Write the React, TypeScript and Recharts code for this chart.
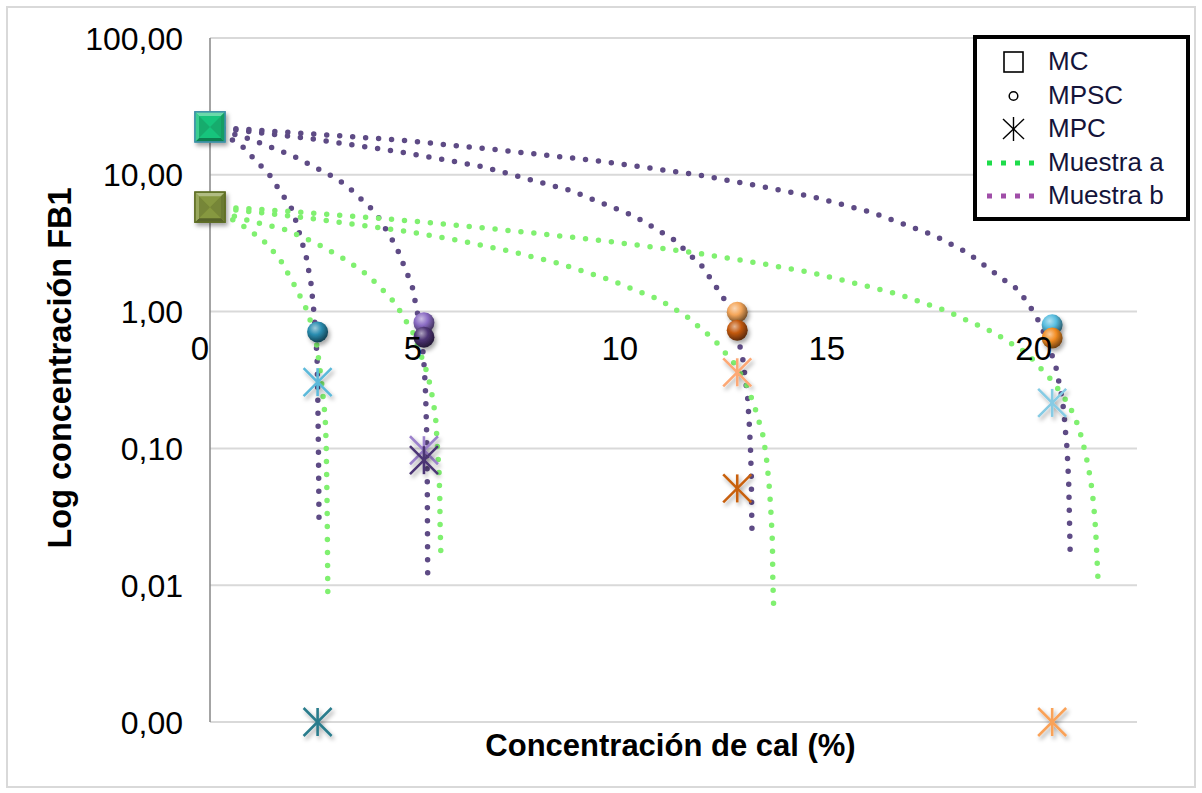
import React from 'react';
import { ComposedChart, Line, Scatter, XAxis, YAxis, CartesianGrid, Legend } from 'recharts';

// ---------- data ----------
const X_TICKS = [0, 5, 10, 15, 20];
const Y_TICKS = [0.001, 0.01, 0.1, 1, 10, 100];
const X_DOMAIN: [number, number] = [0, 22.4];
const Y_DOMAIN: [number, number] = [0.001, 100];

const X_TITLE = 'Concentración de cal (%)';
const Y_TITLE = 'Log concentración FB1';
const LEGEND_LABELS = ['MC', 'MPSC', 'MPC', 'Muestra a', 'Muestra b'];

// MC (squares)
const MC_X = [0, 0];
const MC_Y = [22.4, 5.8];
// MPSC (spheres)
const MPSC_X = [2.6, 5.17, 5.17, 12.74, 12.74, 20.35, 20.35];
const MPSC_Y = [0.71, 0.83, 0.65, 0.99, 0.73, 0.8, 0.64];
// MPC (asterisks)
const MPC_X = [2.6, 2.6, 5.17, 5.17, 12.74, 12.74, 20.35, 20.35];
const MPC_Y = [0.305, 0.001, 0.097, 0.082, 0.36, 0.051, 0.215, 0.001];

// Muestra b trend curves (purple dotted)
const MUESTRA_B_1: [number, number][] = [
  [0, 22.4], [0.75, 16.5], [1.437, 9.98], [2.0, 5.5], [2.324, 2.52], [2.44, 1.61], [2.522, 0.918],
  [2.587, 0.468], [2.604, 0.239], [2.62, 0.1], [2.628, 0.0525], [2.635, 0.027],
];
const MUESTRA_B_2: [number, number][] = [
  [0, 22.4], [1, 18.1], [2, 13.8], [3, 9.6], [3.29, 8.4], [4, 5.3], [4.5, 3.0], [4.884, 1.54],
  [5.007, 1.0], [5.065, 0.8], [5.13, 0.58], [5.18, 0.38], [5.21, 0.25], [5.235, 0.13], [5.25, 0.06],
  [5.26, 0.0123],
];
const MUESTRA_B_3: [number, number][] = [
  [0, 22.4], [2.3, 18.6], [4.577, 14.75], [6.59, 11.46], [8.725, 7.65], [10.25, 5.0], [11.22, 3.34],
  [11.9, 2.13], [12.43, 1.23], [12.65, 0.95], [12.78, 0.6], [12.87, 0.46], [12.99, 0.24],
  [13.03, 0.152], [13.06, 0.1], [13.08, 0.063], [13.09, 0.033], [13.1, 0.0214],
];
const MUESTRA_B_4: [number, number][] = [
  [0, 22.4], [0.65, 21.7], [4.577, 17.97], [6.99, 15.18], [9.41, 12.6], [11.82, 9.97], [13.43, 8.1],
  [14.56, 6.92], [16, 5.3], [17.5, 3.6], [18.3, 2.7], [19.19, 1.7], [19.44, 1.52], [19.65, 1.285],
  [19.82, 1.086], [19.99, 0.893], [20.2, 0.65], [20.44, 0.394], [20.5, 0.32], [20.57, 0.25],
  [20.63, 0.19], [20.67, 0.135], [20.71, 0.1], [20.75, 0.0556], [20.77, 0.0284], [20.79, 0.0147],
];
// Muestra a trend curves (green dotted)
const MUESTRA_A_1: [number, number][] = [
  [0, 5.8], [0.713, 4.42], [1.275, 3.34], [1.679, 2.45], [2.082, 1.48], [2.36, 1.0], [2.563, 0.62],
  [2.686, 0.325], [2.783, 0.17], [2.807, 0.109], [2.831, 0.0365], [2.848, 0.0078],
];
const MUESTRA_A_2: [number, number][] = [
  [0, 5.8], [0.713, 4.83], [1.84, 3.95], [2.565, 3.16], [3.29, 2.38], [3.81, 1.85], [4.256, 1.36],
  [4.478, 1.15], [4.72, 0.868], [4.88, 0.734], [5.21, 0.385], [5.29, 0.316], [5.357, 0.253],
  [5.415, 0.2], [5.455, 0.161], [5.495, 0.103], [5.536, 0.066], [5.553, 0.0425], [5.56, 0.0277],
  [5.577, 0.0176],
];
const MUESTRA_A_3: [number, number][] = [
  [0, 5.8], [2.3, 4.86], [4.698, 3.88], [5.947, 3.34], [7.186, 2.79], [8.43, 2.25], [9.68, 1.7],
  [10.86, 1.22], [11.5, 0.93], [12.19, 0.62], [12.7, 0.407], [12.99, 0.283], [13.2, 0.185],
  [13.37, 0.122], [13.46, 0.078], [13.52, 0.05], [13.56, 0.032], [13.59, 0.0208], [13.6, 0.0108],
  [13.62, 0.007],
];
const MUESTRA_A_4: [number, number][] = [
  [0, 5.9], [2.3, 5.3], [4.577, 4.68], [6.31, 4.18], [8.06, 3.69], [9.81, 3.21], [11.69, 2.7],
  [13.42, 2.22], [14.55, 1.92], [15.45, 1.65], [16.6, 1.35], [17.78, 1.016], [18.93, 0.706],
  [19.74, 0.496], [20.37, 0.307], [20.76, 0.208], [20.99, 0.144], [21.16, 0.091], [21.28, 0.059],
  [21.35, 0.0397], [21.4, 0.0256], [21.43, 0.0164], [21.46, 0.0106],
];

// ---------- styles ----------
const MC_COLORS = ['#18C47C', '#86983F'];
const MC_BORDERS = ['#3E92A8', '#5F6F25'];
const MPSC_COLORS = ['#2A8DB0', '#8B6CC4', '#4E3575', '#F4A65A', '#C45A10', '#58BEE0', '#F28C22'];
const MPC_COLORS = ['#5BB9DA', '#2B7C8C', '#9C82CC', '#4C3574', '#FDA874', '#C8600F', '#86CBE4', '#F9A258'];
const PURPLE_TREND = '#5E4B85';
const GREEN_TREND = '#80F070';
const LEGEND_GREEN = '#1EDC4A';
const LEGEND_PURPLE = '#A04EA8';
const FONT = '"Liberation Sans", Arial, sans-serif';

const CHART_W = 1186;
const CHART_H = 775;
const MARGIN = { top: 30, right: 57, bottom: 21, left: 0 };
const YAXIS_W = 202;
const XAXIS_H = 40;
const PLOT_H = CHART_H - MARGIN.top - MARGIN.bottom - XAXIS_H;

const toPoints = (xs: number[], ys: number[]) => xs.map((x, i) => ({ x, y: ys[i], i }));
const toCurve = (pts: [number, number][]) => pts.map(([x, y]) => ({ x, y }));

function mix(hex: string, target: string, t: number) {
  const p = (h: string) => [1, 3, 5].map((k) => parseInt(h.slice(k, k + 2), 16));
  const a = p(hex);
  const b = p(target);
  const c = a.map((v, k) => Math.round(v + (b[k] - v) * t));
  return '#' + c.map((v) => v.toString(16).padStart(2, '0')).join('');
}

const Defs = () => (
  <svg width={0} height={0} style={{ position: 'absolute' }}>
    <defs>
      <filter id="shadow" x="-60%" y="-60%" width="220%" height="220%">
        <feDropShadow dx="2" dy="3" stdDeviation="2" floodColor="#000" floodOpacity="0.35" />
      </filter>
      {MPSC_COLORS.map((c, i) => (
        <radialGradient key={i} id={`sph-${i}`} cx="38%" cy="32%" r="70%">
          <stop offset="0%" stopColor={mix(c, '#ffffff', 0.55)} />
          <stop offset="45%" stopColor={c} />
          <stop offset="100%" stopColor={mix(c, '#000000', 0.55)} />
        </radialGradient>
      ))}
    </defs>
  </svg>
);

const SquareShape = (props: any) => {
  const { cx, cy } = props;
  const i = props.payload?.i ?? props.i ?? 0;
  const s = 15;
  const b = 4;
  const c = MC_COLORS[i];
  return (
    <g filter="url(#shadow)">
      <rect x={cx - s} y={cy - s} width={2 * s} height={2 * s} fill={c} stroke={MC_BORDERS[i]} strokeWidth={1.5} />
      <polygon points={`${cx - s},${cy - s} ${cx + s},${cy - s} ${cx + s - b},${cy - s + b} ${cx - s + b},${cy - s + b}`} fill={mix(c, '#ffffff', 0.35)} />
      <polygon points={`${cx - s},${cy + s} ${cx + s},${cy + s} ${cx + s - b},${cy + s - b} ${cx - s + b},${cy + s - b}`} fill={mix(c, '#000000', 0.35)} />
      <polygon points={`${cx - s},${cy - s} ${cx - s + b},${cy - s + b} ${cx - s + b},${cy + s - b} ${cx - s},${cy + s}`} fill={mix(c, '#ffffff', 0.15)} />
      <polygon points={`${cx + s},${cy - s} ${cx + s - b},${cy - s + b} ${cx + s - b},${cy + s - b} ${cx + s},${cy + s}`} fill={mix(c, '#000000', 0.2)} />
      <polygon points={`${cx - s + b},${cy - s + b} ${cx},${cy} ${cx - s + b},${cy + s - b}`} fill={mix(c, '#000000', 0.12)} />
      <polygon points={`${cx + s - b},${cy - s + b} ${cx},${cy} ${cx + s - b},${cy + s - b}`} fill={mix(c, '#000000', 0.12)} />
      <rect x={cx - s} y={cy - s} width={2 * s} height={2 * s} fill="none" stroke={MC_BORDERS[i]} strokeWidth={1.5} />
    </g>
  );
};

const SphereShape = (props: any) => {
  const { cx, cy } = props;
  const i = props.payload?.i ?? props.i ?? 0;
  return (
    <g filter="url(#shadow)">
      <circle cx={cx} cy={cy} r={10.5} fill={`url(#sph-${i})`} />
    </g>
  );
};

const AsteriskShape = (props: any) => {
  const { cx, cy } = props;
  const i = props.payload?.i ?? props.i ?? 0;
  const h = 14;
  const c = MPC_COLORS[i];
  return (
    <g filter="url(#shadow)" stroke={c} strokeWidth={2.6}>
      <line x1={cx} y1={cy - h} x2={cx} y2={cy + h} />
      <line x1={cx - h} y1={cy - h} x2={cx + h} y2={cy + h} />
      <line x1={cx - h} y1={cy + h} x2={cx + h} y2={cy - h} />
    </g>
  );
};

const fmtY = (v: number) => v.toFixed(2).replace('.', ',');

const YTick = (props: any) => {
  const { x, y, payload } = props;
  return (
    <text x={x} y={y} dy="0.36em" textAnchor="end" fontSize={32} fontFamily={FONT} fill="#000">
      {fmtY(payload.value)}
    </text>
  );
};

// x tick labels sit under the value-axis crossing at 1
const logFrac = (v: number) =>
  (Math.log10(Y_DOMAIN[1]) - Math.log10(v)) / (Math.log10(Y_DOMAIN[1]) - Math.log10(Y_DOMAIN[0]));
const XTick = (props: any) => {
  const { x, payload } = props;
  const yCross = MARGIN.top + PLOT_H * logFrac(1);
  const isZero = payload.value === 0;
  return (
    <text x={isZero ? x - 1 : x - 4} y={yCross + 48} textAnchor={isZero ? 'end' : 'middle'} fontSize={33} fontFamily={FONT} fill="#000">
      {payload.value}
    </text>
  );
};

const XTitle = (props: any) => {
  const vb = props.viewBox || {};
  return (
    <text x={vb.x + vb.width / 2 - 3} y={vb.y + 34} textAnchor="middle" fontSize={31} fontWeight="bold" fontFamily={FONT} fill="#000">
      {X_TITLE}
    </text>
  );
};

const YTitle = (props: any) => {
  const vb = props.viewBox || {};
  const cx = 63;
  const cy = vb.y + vb.height / 2 - 12;
  return (
    <text x={cx} y={cy} transform={`rotate(-90, ${cx}, ${cy})`} textAnchor="middle" fontSize={32.5} fontWeight="bold" fontFamily={FONT} fill="#000">
      {Y_TITLE}
    </text>
  );
};

const LegendIcon = ({ k }: { k: number }) => {
  if (k === 0)
    return (
      <svg width={34} height={30}>
        <rect x={7} y={5} width={19} height={20} fill="none" stroke="#000" strokeWidth={1.6} />
      </svg>
    );
  if (k === 1)
    return (
      <svg width={34} height={30}>
        <circle cx={16.5} cy={15} r={4.3} fill="none" stroke="#000" strokeWidth={1.5} />
      </svg>
    );
  if (k === 2)
    return (
      <svg width={34} height={30}>
        <g stroke="#000" strokeWidth={1.4}>
          <line x1={16.5} y1={3} x2={16.5} y2={27} />
          <line x1={6} y1={5} x2={27} y2={25} />
          <line x1={6} y1={25} x2={27} y2={5} />
        </g>
      </svg>
    );
  const col = k === 3 ? LEGEND_GREEN : LEGEND_PURPLE;
  return (
    <svg width={58} height={30}>
      <line x1={4} y1={15} x2={56} y2={15} stroke={col} strokeWidth={5} strokeDasharray="5 9" />
    </svg>
  );
};

const LegendBox = () => (
  <div
    style={{
      boxSizing: 'border-box',
      width: 217,
      height: 186,
      border: '4px solid #000',
      background: '#fff',
      paddingTop: 6,
      fontFamily: FONT,
      fontSize: 26,
      color: '#14143a',
    }}
  >
    {LEGEND_LABELS.map((label, k) => (
      <div key={label} style={{ height: 33.5, display: 'flex', alignItems: 'center', position: 'relative' }}>
        <div style={{ position: 'absolute', left: k >= 3 ? 6 : 20, top: 2 }}>
          <LegendIcon k={k} />
        </div>
        <span style={{ position: 'absolute', left: 71, lineHeight: '33.5px' }}>{label}</span>
      </div>
    ))}
  </div>
);

const TREND_B = [MUESTRA_B_1, MUESTRA_B_2, MUESTRA_B_3, MUESTRA_B_4];
const TREND_A = [MUESTRA_A_1, MUESTRA_A_2, MUESTRA_A_3, MUESTRA_A_4];

export default function App() {
  return (
    <div
      style={{
        position: 'absolute',
        left: 6,
        top: 6,
        width: 1190,
        height: 782,
        border: '2px solid #d9d9d9',
        boxSizing: 'border-box',
        background: '#fff',
      }}
    >
      <Defs />
      <div style={{ position: 'absolute', left: 0, top: 0 }}>
        <ComposedChart width={CHART_W} height={CHART_H} margin={MARGIN}>
          <CartesianGrid vertical={false} stroke="#d9d9d9" strokeWidth={2} />
          <XAxis
            type="number"
            dataKey="x"
            domain={X_DOMAIN}
            ticks={X_TICKS}
            height={XAXIS_H}
            axisLine={false}
            tickLine={false}
            tick={<XTick />}
            interval={0}
            label={<XTitle />}
          />
          <YAxis
            type="number"
            dataKey="y"
            scale="log"
            domain={Y_DOMAIN}
            ticks={Y_TICKS}
            width={YAXIS_W}
            axisLine={{ stroke: '#868686', strokeWidth: 1.5 }}
            tickLine={false}
            tickSize={0}
            tickMargin={27}
            tick={<YTick />}
            interval={0}
            label={<YTitle />}
          />
          <Scatter name="MC" data={toPoints(MC_X, MC_Y)} shape={<SquareShape />} isAnimationActive={false} />
          <Scatter name="MPSC" data={toPoints(MPSC_X, MPSC_Y)} shape={<SphereShape />} isAnimationActive={false} />
          <Scatter name="MPC" data={toPoints(MPC_X, MPC_Y)} shape={<AsteriskShape />} isAnimationActive={false} />
          {TREND_B.map((c, k) => (
            <Line
              key={`b${k}`}
              name={`Muestra b ${k + 1}`}
              data={toCurve(c)}
              dataKey="y"
              type="linear"
              stroke={PURPLE_TREND}
              strokeWidth={5.5}
              strokeDasharray="0 13"
              strokeLinecap="round"
              dot={false}
              activeDot={false}
              isAnimationActive={false}
            />
          ))}
          {TREND_A.map((c, k) => (
            <Line
              key={`a${k}`}
              name={`Muestra a ${k + 1}`}
              data={toCurve(c)}
              dataKey="y"
              type="linear"
              stroke={GREEN_TREND}
              strokeWidth={5.5}
              strokeDasharray="0 13"
              strokeLinecap="round"
              dot={false}
              activeDot={false}
              isAnimationActive={false}
            />
          ))}
          <Legend
            layout="vertical"
            align="center"
            verticalAlign="middle"
            content={<LegendBox />}
            wrapperStyle={{ position: 'absolute', left: 965, top: 27, width: 217, height: 186 }}
          />
        </ComposedChart>
      </div>
    </div>
  );
}
